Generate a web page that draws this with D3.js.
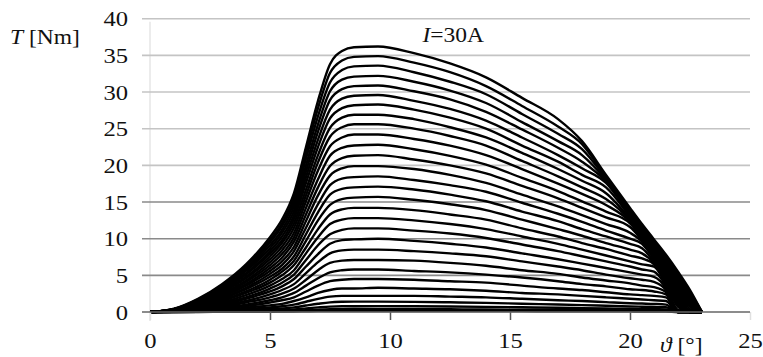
<!DOCTYPE html>
<html><head><meta charset="utf-8">
<script src="https://cdn.jsdelivr.net/npm/d3@7"></script>
<style>
body{margin:0;background:#fff}
svg{display:block}
text{font-family:"Liberation Serif","Times New Roman",serif;fill:#111}
</style>
</head><body>
<svg id="chart" width="763" height="357"></svg>
<script>
// rotor angle grid [deg]
const angleDeg = [0,1,2,3,4,5,5.5,6,6.5,7,7.5,8,8.5,9.5,11,12.5,14,15.5,17,18,19,20,20.5,21,21.5,22,22.5,23];
// phase currents [A]
const currentsA = [1,2,3,4,5,6,7,8,9,10,11,12,13,14,15,16,17,18,19,20,21,22,23,24,25,26,27,28,29,30];
// torque [Nm] per current
const torqueI01 = [0,0.002,0.01,0.02,0.03,0.04,0.05,0.06,0.09,0.12,0.14,0.14,0.14,0.14,0.14,0.14,0.13,0.12,0.1,0.1,0.09,0.08,0.07,0.07,0.07,0,0,0];
const torqueI02 = [0,0.005,0.02,0.04,0.07,0.11,0.14,0.18,0.25,0.32,0.37,0.39,0.4,0.4,0.39,0.37,0.35,0.32,0.29,0.26,0.24,0.22,0.2,0.19,0.18,0,0,0];
const torqueI03 = [0,0.01,0.04,0.08,0.14,0.22,0.28,0.36,0.5,0.63,0.74,0.78,0.79,0.8,0.78,0.75,0.7,0.64,0.58,0.53,0.48,0.43,0.41,0.38,0.36,0,0,0];
const torqueI04 = [0,0.02,0.07,0.15,0.25,0.4,0.49,0.63,0.88,1.12,1.32,1.39,1.41,1.41,1.38,1.32,1.25,1.13,1.02,0.94,0.85,0.76,0.72,0.68,0.64,0,0,0];
const torqueI05 = [0,0.03,0.11,0.24,0.4,0.63,0.78,1.0,1.4,1.8,2.1,2.2,2.2,2.2,2.2,2.1,2.0,1.8,1.6,1.5,1.35,1.2,1.15,1.1,1.0,0,0,0];
const torqueI06 = [0,0.04,0.16,0.34,0.6,0.9,1.1,1.5,2.0,2.6,3.0,3.2,3.2,3.3,3.2,3.1,2.9,2.6,2.4,2.2,2.0,1.8,1.7,1.6,1.5,0,0,0];
const torqueI07 = [0,0.1,0.2,0.5,0.8,1.3,1.6,2.0,2.8,3.6,4.2,4.4,4.5,4.5,4.4,4.2,4.0,3.6,3.2,3.0,2.7,2.4,2.3,2.2,2.0,0,0,0];
const torqueI08 = [0,0.1,0.3,0.6,1.0,1.6,2.0,2.6,3.6,4.6,5.4,5.7,5.8,5.8,5.6,5.4,5.1,4.7,4.2,3.8,3.5,3.1,3.0,2.8,2.4,0,0,0];
const torqueI09 = [0,0.1,0.4,0.7,1.3,2.0,2.5,3.2,4.4,5.7,6.7,7.0,7.1,7.1,7.0,6.7,6.3,5.7,5.2,4.7,4.3,3.9,3.6,3.4,2.7,0,0,0];
const torqueI10 = [0,0.1,0.4,0.9,1.5,2.4,3.0,3.8,5.3,6.8,8.0,8.4,8.5,8.5,8.3,8.0,7.6,6.9,6.2,5.7,5.1,4.6,4.4,4.1,3.0,0,0,0];
const torqueI11 = [0,0.1,0.5,1.0,1.8,2.8,3.5,4.5,6.2,7.9,9.3,9.8,9.9,10.0,9.7,9.3,8.8,8.0,7.2,6.6,6.0,5.4,5.1,4.8,3.3,0.3,0,0];
const torqueI12 = [0,0.1,0.6,1.2,2.0,3.2,4.0,5.1,7.1,9.1,10.6,11.2,11.4,11.4,11.1,10.7,10.1,9.2,8.3,7.6,6.9,6.2,5.8,5.5,3.6,0.7,0,0];
const torqueI13 = [0,0.2,0.6,1.3,2.3,3.6,4.5,5.7,8.0,10.2,12.0,12.6,12.8,12.8,12.5,12.0,11.3,10.3,9.3,8.5,7.7,6.9,6.5,6.2,3.8,1.0,0,0];
const torqueI14 = [0,0.2,0.7,1.5,2.6,4.0,5.0,6.4,8.8,11.3,13.3,14.0,14.2,14.2,13.9,13.3,12.6,11.4,10.3,9.4,8.6,7.7,7.3,6.5,4.1,1.3,0,0];
const torqueI15 = [0,0.2,0.8,1.6,2.8,4.4,5.5,7.0,9.7,12.5,14.6,15.4,15.6,15.7,15.3,14.7,13.9,12.6,11.3,10.4,9.4,8.5,8.0,6.7,4.3,1.6,0,0];
const torqueI16 = [0,0.2,0.8,1.8,3.1,4.8,5.9,7.6,10.6,13.6,16.0,16.8,17.0,17.1,16.7,16.0,15.1,13.7,12.4,11.3,10.3,9.3,8.7,6.9,4.6,1.9,0,0];
const torqueI17 = [0,0.2,0.9,1.9,3.3,5.2,6.4,8.3,11.5,14.7,17.3,18.2,18.4,18.5,18.0,17.3,16.4,14.9,13.4,12.3,11.1,10.0,9.3,7.2,4.8,2.2,0,0];
const torqueI18 = [0,0.2,1.0,2.1,3.6,5.6,6.9,8.9,12.4,15.9,18.6,19.6,19.9,19.9,19.5,18.7,17.6,16.0,14.4,13.2,12.0,10.8,9.6,7.4,5.1,2.5,0,0];
const torqueI19 = [0,0.3,1.1,2.2,3.8,6.0,7.4,9.6,13.3,17.0,19.9,21.0,21.3,21.4,20.8,20.0,18.9,17.2,15.5,14.2,12.9,11.6,9.8,7.7,5.3,2.8,0,0];
const torqueI20 = [0,0.3,1.1,2.4,4.1,6.4,7.9,10.2,14.2,18.1,21.3,22.4,22.7,22.8,22.2,21.3,20.1,18.3,16.5,15.1,13.7,12.1,10.0,7.9,5.6,3.1,0.1,0];
const torqueI21 = [0,0.3,1.2,2.5,4.3,6.8,8.4,10.8,15.1,19.3,22.6,23.8,24.2,24.2,23.6,22.7,21.4,19.5,17.5,16.1,14.6,12.3,10.2,8.1,5.8,3.4,0.4,0];
const torqueI22 = [0,0.3,1.3,2.7,4.6,7.2,8.9,11.5,15.9,20.4,23.9,25.2,25.6,25.6,25.0,24.0,22.7,20.6,18.5,17.0,15.4,12.5,10.4,8.3,6.1,3.6,0.7,0];
const torqueI23 = [0,0.3,1.3,2.8,4.8,7.6,9.4,12.1,16.7,21.4,25.1,26.5,26.9,26.9,26.3,25.2,23.8,21.7,19.5,17.9,16.2,12.7,10.6,8.5,6.3,3.8,1.0,0];
const torqueI24 = [0,0.4,1.4,3.0,5.1,8.0,9.8,12.7,17.6,22.5,26.4,27.8,28.2,28.3,27.6,26.5,25.0,22.7,20.5,18.7,17.0,13.0,10.8,8.7,6.5,4.1,1.3,0];
const torqueI25 = [0,0.4,1.5,3.1,5.3,8.3,10.3,13.2,18.4,23.5,27.6,29.1,29.5,29.6,28.8,27.7,26.1,23.8,21.4,19.6,17.6,13.2,11.0,8.9,6.7,4.3,1.6,0];
const torqueI26 = [0,0.4,1.5,3.2,5.6,8.7,10.8,13.8,19.2,24.6,28.9,30.4,30.8,30.9,30.1,29.0,27.3,24.9,22.4,20.5,17.8,13.4,11.2,9.1,6.9,4.6,1.9,0];
const torqueI27 = [0,0.4,1.6,3.4,5.8,9.1,11.2,14.4,20.0,25.6,30.1,31.7,32.1,32.2,31.4,30.2,28.5,25.9,23.3,21.4,18.0,13.6,11.4,9.3,7.1,4.8,2.1,0];
const torqueI28 = [0,0.4,1.7,3.5,6.0,9.5,11.7,15.0,20.9,26.7,31.3,33.0,33.5,33.6,32.7,31.4,29.7,27.0,24.3,22.2,18.2,13.8,11.6,9.5,7.4,5.0,2.4,0];
const torqueI29 = [0,0.4,1.7,3.7,6.3,9.8,12.1,15.6,21.7,27.8,32.6,34.3,34.8,34.9,34.0,32.7,30.8,28.1,25.3,22.9,18.4,14.0,11.8,9.7,7.6,5.3,2.7,0];
const torqueI30 = [0,0.45,1.8,3.8,6.5,10.2,12.6,16.2,22.5,28.8,33.8,35.6,36.1,36.2,35.3,33.9,32.0,29.2,26.3,23.3,18.7,14.2,12.0,9.9,7.8,5.5,3.0,0];
const torqueSeries = [torqueI01,torqueI02,torqueI03,torqueI04,torqueI05,torqueI06,torqueI07,torqueI08,torqueI09,torqueI10,
  torqueI11,torqueI12,torqueI13,torqueI14,torqueI15,torqueI16,torqueI17,torqueI18,torqueI19,torqueI20,
  torqueI21,torqueI22,torqueI23,torqueI24,torqueI25,torqueI26,torqueI27,torqueI28,torqueI29,torqueI30];
const xTicks = [0,5,10,15,20,25];
const yTicks = [0,5,10,15,20,25,30,35,40];

const svg = d3.select("#chart");
const x = d3.scaleLinear().domain([0,25]).range([150,750]);
const y = d3.scaleLinear().domain([0,40]).range([312,18.7]);
const stretch = 1.12; // glyphs in the original are slightly wide

// vertical axis line (faint)
svg.append("line").attr("x1",x(0)).attr("x2",x(0)).attr("y1",y(40)+3).attr("y2",y(0)+9)
  .attr("stroke","#e2e2e2").attr("stroke-width",1.3);

// horizontal grid lines
svg.append("g").selectAll("line").data(yTicks.filter(d=>d>0)).join("line")
  .attr("x1",x(0)-8).attr("x2",x(25)).attr("y1",d=>y(d)).attr("y2",d=>y(d))
  .attr("stroke",d=>d<=15?"#8a8a8a":"#c4c4c4").attr("stroke-width",1.6);

// curves
const line = d3.line().x((d,i)=>x(angleDeg[i])).y(d=>y(d)).curve(d3.curveMonotoneX);
svg.append("g").selectAll("path").data(torqueSeries).join("path")
  .attr("d",line).attr("fill","none").attr("stroke","#000").attr("stroke-width",2.4)
  .attr("stroke-linejoin","round");

// x axis
const xAxis = d3.axisBottom(x).tickValues(xTicks).tickSize(8).tickFormat(d3.format("d"));
const gx = svg.append("g").attr("transform",`translate(0,${y(0)})`).call(xAxis);
gx.select(".domain").remove();
gx.selectAll(".tick line").attr("stroke",d=>(d===0||d===25)?"#e0e0e0":"#555").attr("stroke-width",1.5);
gx.selectAll(".tick text").attr("font-size",22).attr("y",13).attr("dy","1.05em")
  .attr("font-family","Liberation Serif").attr("transform",`scale(${stretch},1)`);
svg.append("line").attr("x1",x(0)-8).attr("x2",x(25)).attr("y1",y(0)).attr("y2",y(0))
  .attr("stroke","#666").attr("stroke-width",1.6);

// y axis labels
const yAxis = d3.axisLeft(y).tickValues(yTicks).tickSize(0).tickPadding(22/stretch).tickFormat(d3.format("d"));
const gy = svg.append("g").attr("transform",`translate(${x(0)},0)`).call(yAxis);
gy.select(".domain").remove();
gy.selectAll(".tick text").attr("font-size",22).attr("font-family","Liberation Serif")
  .attr("transform",`scale(${stretch},1)`);

// axis titles
function label(px, py, italic, rest){
  const t = svg.append("text").attr("transform",`translate(${px},${py}) scale(${stretch},1)`)
    .attr("font-size",21).attr("dy","0.35em");
  t.append("tspan").attr("font-style","italic").text(italic);
  t.append("tspan").text(rest);
}
label(10, y(37.6), "T", " [Nm]");
label(x(21.25), y(0)+33, "ϑ", " [°]");
label(x(11.35), y(37.8), "I", "=30A");
</script>
</body></html>
